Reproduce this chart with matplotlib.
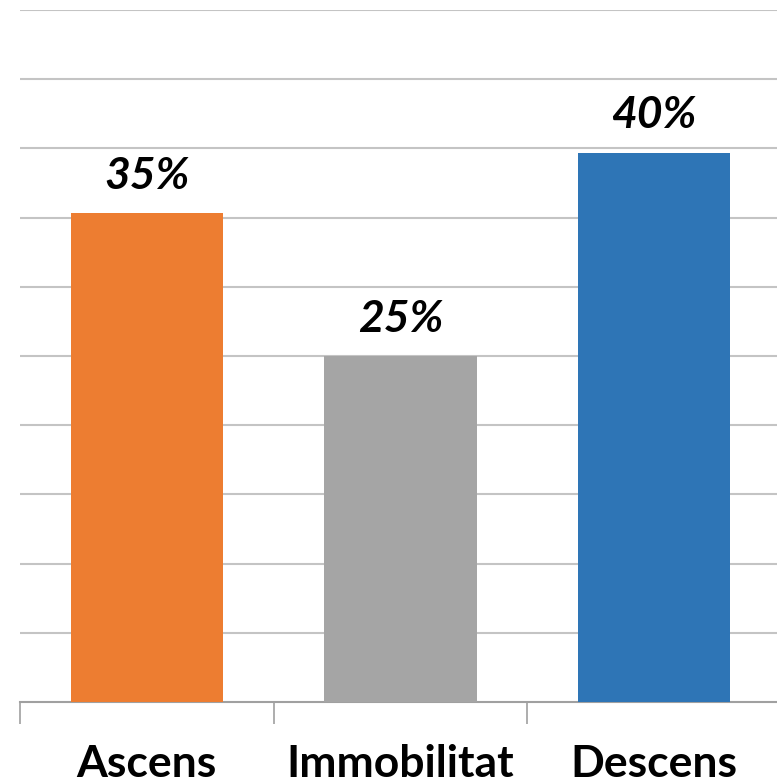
import numpy as np
import matplotlib.pyplot as plt

categories = ['Ascens', 'Immobilitat', 'Descens']
values = [35.3, 25.0, 39.7]
labels = ['35%', '25%', '40%']
colors = ['#ED7D31', '#A5A5A5', '#2E75B6']

W, H = 777, 782
fig = plt.figure(figsize=(W / 100, H / 100), dpi=100)
ax = fig.add_axes([20 / W, (H - 702) / H, 761 / W, 692 / H])

x = np.arange(len(categories))
bars = ax.bar(x, values, width=0.6, color=colors, zorder=3)

for xi, v, lab in zip(x, values, labels):
    ax.text(xi, v + 1.25, lab, ha='center', va='bottom', fontsize=32,
            fontweight='bold', fontstyle='italic', family='Lato')

ax.set_xlim(-0.5, 2.5)
ax.set_ylim(0, 50)
ax.set_yticks(np.arange(5, 51, 5))
ax.yaxis.grid(True, color='#c4c4c4', linewidth=1.5, zorder=0)
ax.tick_params(axis='y', left=False, labelleft=False)

ax.set_xticks(x)
ax.set_xticklabels(categories, fontsize=32, fontweight='bold', family='Lato')
ax.set_xticks([-0.5, 0.5, 1.5, 2.5], minor=True)
ax.tick_params(axis='x', which='major', length=0, pad=30)
ax.tick_params(axis='x', which='minor', length=16, width=1.2, color='#a0a0a0')

for s in ['top', 'left', 'right']:
    ax.spines[s].set_visible(False)
ax.spines['bottom'].set_color('#a0a0a0')
ax.spines['bottom'].set_linewidth(1.5)

fig.savefig('out.png', dpi=100)
